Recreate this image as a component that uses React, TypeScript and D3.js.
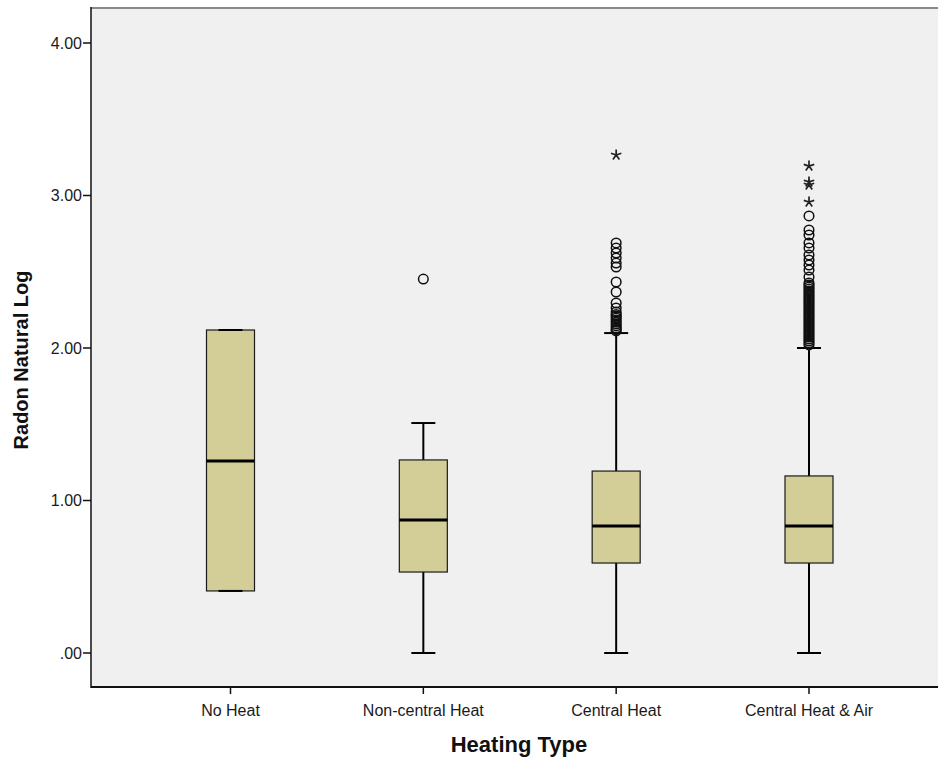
import React from "react";
import * as d3 from "d3";

const categories = ["No Heat", "Non-central Heat", "Central Heat", "Central Heat & Air"];
const whiskerLow = [0.407, 0, 0, 0];
const q1 = [0.407, 0.531, 0.59, 0.59];
const median = [1.259, 0.872, 0.833, 0.833];
const q3 = [2.118, 1.266, 1.193, 1.161];
const whiskerHigh = [2.118, 1.508, 2.098, 2.0];

const outliersNoHeat: number[] = [];
const outliersNonCentral = [2.452];
const outliersCentral = [
  2.689, 2.656, 2.623, 2.59, 2.557, 2.531, 2.433, 2.367, 2.295, 2.262, 2.236, 2.22, 2.21, 2.197, 2.184, 2.17,
  2.157, 2.145, 2.131, 2.12, 2.112,
];
const outliersCentralAir = [
  2.866, 2.774, 2.741, 2.689, 2.656, 2.61, 2.577, 2.544, 2.511, 2.466, 2.426, 2.413, 2.4, 2.387, 2.374, 2.361,
  2.348, 2.335, 2.321, 2.308, 2.295, 2.282, 2.269, 2.256, 2.243, 2.23, 2.216, 2.203, 2.19, 2.177, 2.164, 2.151,
  2.138, 2.125, 2.111, 2.098, 2.085, 2.072, 2.059, 2.046, 2.033, 2.02,
];
const outliers = [outliersNoHeat, outliersNonCentral, outliersCentral, outliersCentralAir];

const extremesCentral = [3.266];
const extremesCentralAir = [3.193, 3.089, 3.069, 2.957];
const extremes = [[], [], extremesCentral, extremesCentralAir];

const yTicks = [0, 1, 2, 3, 4];

const W = 938, H = 762;
const left = 91, top = 8, bottom = 687, right = 940;

export default function App() {
  const y = d3.scaleLinear().domain([0, 4]).range([653, 43]);
  const x = d3.scalePoint<string>().domain(categories).range([230.5, 809]);
  const boxW = 48;
  const capW = 24;
  const fmt = (v: number) => d3.format(".2f")(v).replace(/^0\./, ".");
  const font = "'Liberation Sans', Arial, sans-serif";

  const starPath = (cx: number, cy: number) => {
    let p = "";
    for (let k = 0; k < 5; k++) {
      const a = ((-90 + 72 * k) * Math.PI) / 180;
      p += `M${cx},${cy}L${cx + 5.5 * Math.cos(a)},${cy + 5.5 * Math.sin(a)}`;
    }
    return p;
  };

  return (
    <svg width={W} height={H} style={{ position: "absolute", left: 0, top: 0, background: "#fff" }}>
      <rect x={left} y={top} width={right - left} height={bottom - top} fill="#F0F0F0" />
      {/* frame */}
      <line x1={left} x2={right} y1={top} y2={top} stroke="#8a8a8a" strokeWidth={2} />
      <line x1={left} x2={right} y1={bottom} y2={bottom} stroke="#111" strokeWidth={2} />
      <line x1={left} x2={left} y1={top - 1} y2={bottom + 1} stroke="#111" strokeWidth={1.5} />

      {/* y ticks */}
      {yTicks.map((t) => (
        <g key={t}>
          <line x1={83} x2={left} y1={y(t)} y2={y(t)} stroke="#111" strokeWidth={1.5} />
          <text x={82} y={y(t)} dy="0.36em" textAnchor="end" fontFamily={font} fontSize={16} fill="#1a1a1a">
            {fmt(t)}
          </text>
        </g>
      ))}

      {/* x ticks */}
      {categories.map((c) => (
        <g key={c}>
          <line x1={x(c)} x2={x(c)} y1={bottom} y2={bottom + 7} stroke="#111" strokeWidth={1.5} />
          <text x={x(c)} y={716} textAnchor="middle" fontFamily={font} fontSize={16} fill="#1a1a1a">
            {c}
          </text>
        </g>
      ))}

      {/* axis titles */}
      <text x={519} y={752} textAnchor="middle" fontFamily={font} fontSize={22} fontWeight="bold" fill="#111">
        Heating Type
      </text>
      <text
        transform={`translate(28,360) rotate(-90)`}
        textAnchor="middle"
        fontFamily={font}
        fontSize={20}
        fontWeight="bold"
        fill="#111"
      >
        Radon Natural Log
      </text>

      {/* boxes */}
      {categories.map((c, i) => {
        const cx = x(c) as number;
        return (
          <g key={c}>
            <line x1={cx} x2={cx} y1={y(whiskerHigh[i])} y2={y(q3[i])} stroke="#000" strokeWidth={2} />
            <line x1={cx} x2={cx} y1={y(q1[i])} y2={y(whiskerLow[i])} stroke="#000" strokeWidth={2} />
            <rect
              x={cx - boxW / 2}
              y={y(q3[i])}
              width={boxW}
              height={y(q1[i]) - y(q3[i])}
              fill="#D3CE97"
              stroke="#1a1a1a"
              strokeWidth={1.2}
            />
            <line x1={cx - boxW / 2} x2={cx + boxW / 2} y1={y(median[i])} y2={y(median[i])} stroke="#000" strokeWidth={3} />
            <line x1={cx - capW / 2} x2={cx + capW / 2} y1={y(whiskerHigh[i])} y2={y(whiskerHigh[i])} stroke="#000" strokeWidth={2} />
            <line x1={cx - capW / 2} x2={cx + capW / 2} y1={y(whiskerLow[i])} y2={y(whiskerLow[i])} stroke="#000" strokeWidth={2} />
            {outliers[i].map((v, j) => (
              <circle key={j} cx={cx} cy={y(v)} r={4.8} fill="none" stroke="#111" strokeWidth={1.5} />
            ))}
            {(extremes[i] as number[]).map((v, j) => (
              <path key={j} d={starPath(cx, y(v))} stroke="#222" strokeWidth={1.7} fill="none" />
            ))}
          </g>
        );
      })}
    </svg>
  );
}
